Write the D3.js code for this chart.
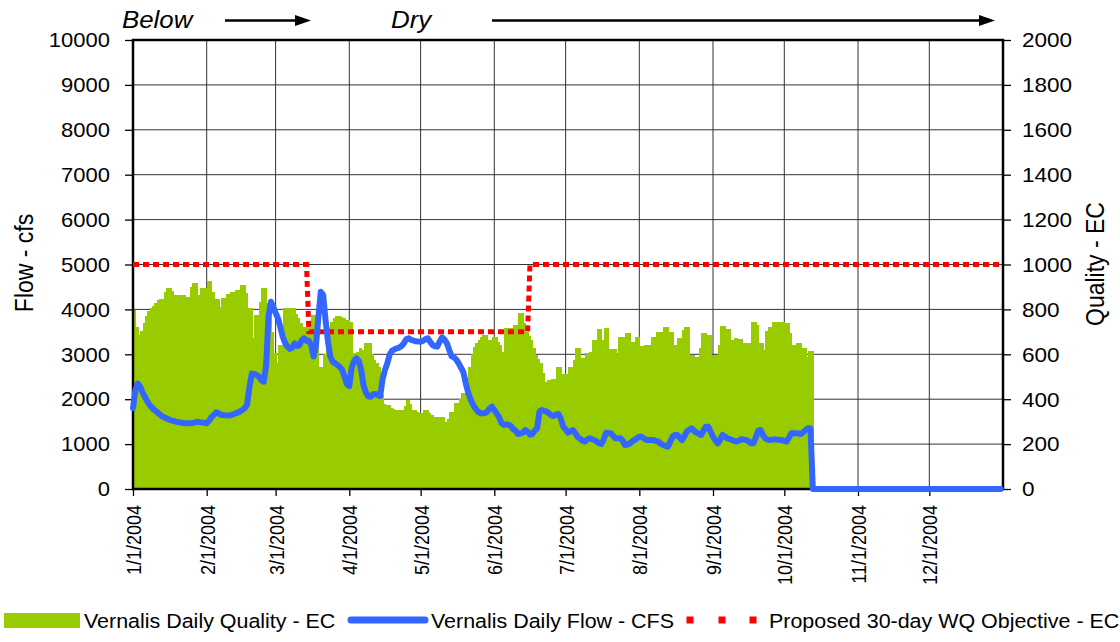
<!DOCTYPE html>
<html><head><meta charset="utf-8">
<script src="https://cdn.jsdelivr.net/npm/d3@7/dist/d3.min.js"></script>
<style>
body{margin:0;background:#fff;}
svg text{font-family:Arial,"Liberation Sans",sans-serif;fill:#000;}
</style>
</head><body>
<svg id="c" width="1120" height="642"></svg>
<script>
// ---------- DATA ----------
const startDate = "2004-01-01";
const endDate = "2005-01-01";
const monthTicks = ["2004-01-01","2004-02-01","2004-03-01","2004-04-01","2004-05-01","2004-06-01",
  "2004-07-01","2004-08-01","2004-09-01","2004-10-01","2004-11-01","2004-12-01"];
const monthTickLabels = ["1/1/2004","2/1/2004","3/1/2004","4/1/2004","5/1/2004","6/1/2004",
  "7/1/2004","8/1/2004","9/1/2004","10/1/2004","11/1/2004","12/1/2004"];
const flowTicks = [0,1000,2000,3000,4000,5000,6000,7000,8000,9000,10000];
const ecTicks = [0,200,400,600,800,1000,1200,1400,1600,1800,2000];

// Vernalis Daily Quality - EC (one value per day from 1/1/2004)
const qualityEC = [
 797,723,686,705,740,770,795,806,815,828,
 840,846,846,878,895,895,880,864,864,864,
 864,864,855,855,900,917,917,864,895,895,
 895,927,927,878,846,846,811,850,850,869,
 869,878,878,886,886,909,909,873,806,806,
 672,775,775,833,895,895,830,780,700,604,
 560,641,641,805,805,805,805,805,780,760,
 740,722,722,720,740,775,775,775,545,545,
 600,660,720,745,760,770,770,765,760,755,
 755,745,604,604,610,630,620,649,649,649,
 600,575,560,545,420,380,374,374,360,356,
 352,352,352,352,370,396,380,352,352,345,
 337,337,352,352,340,330,322,322,322,322,
 322,300,310,344,344,381,381,400,426,426,
 500,545,600,634,650,664,675,686,686,664,
 664,678,678,656,640,610,715,715,715,715,
 730,730,785,785,740,700,680,664,626,597,
 580,560,518,478,485,485,488,490,542,542,
 512,512,512,545,545,574,626,626,582,582,
 604,604,612,664,664,711,711,664,715,715,
 622,622,622,597,675,675,675,696,696,656,
 656,675,675,637,637,641,641,641,678,678,
 701,701,701,723,723,701,701,641,641,671,
 671,708,720,720,597,597,589,589,626,693,
 693,686,686,597,597,597,641,726,726,711,
 711,664,664,671,666,666,649,649,649,649,
 745,745,730,649,649,619,705,720,720,745,
 745,745,745,745,741,741,693,641,641,649,
 649,626,626,589,616,616
];

// Vernalis Daily Flow - CFS (one value per day from 1/1/2004)
const flowCFS = [
 1800,2200,2350,2280,2150,2050,1950,1870,1810,1760,
 1720,1670,1630,1600,1575,1550,1530,1515,1500,1490,
 1480,1470,1463,1463,1463,1470,1480,1500,1490,1480,
 1478,1465,1520,1600,1650,1710,1690,1650,1648,1640,
 1635,1640,1660,1680,1700,1725,1760,1800,1880,2280,
 2570,2560,2540,2500,2420,2390,2750,3850,4170,4050,
 3920,3800,3600,3390,3250,3170,3120,3150,3244,3185,
 3200,3320,3356,3300,3300,3200,2950,3200,3838,4395,
 4320,3764,3300,2950,2836,2800,2762,2720,2650,2500,
 2330,2290,2700,2850,2910,2850,2651,2300,2150,2060,
 2057,2110,2116,2090,2072,2450,2650,2800,3000,3080,
 3110,3133,3150,3185,3250,3340,3356,3320,3304,3290,
 3285,3282,3300,3340,3356,3280,3207,3180,3170,3280,
 3378,3330,3250,3100,2960,2930,2880,2800,2700,2600,
 2350,2150,2000,1880,1800,1730,1686,1686,1686,1720,
 1790,1834,1760,1680,1600,1470,1426,1440,1430,1400,
 1330,1300,1225,1240,1255,1314,1277,1210,1225,1300,
 1351,1723,1760,1740,1723,1686,1640,1626,1660,1671,
 1560,1389,1330,1255,1280,1314,1250,1166,1120,1080,
 1055,1100,1129,1110,1092,1060,1020,1003,1100,1255,
 1250,1240,1180,1129,1129,1129,1080,980,990,1017,
 1060,1092,1130,1166,1166,1120,1092,1092,1092,1092,
 1070,1055,1010,980,960,943,1050,1166,1200,1203,
 1140,1092,1180,1277,1320,1351,1300,1255,1230,1203,
 1300,1389,1389,1280,1166,1080,1017,1100,1203,1170,
 1129,1110,1092,1070,1055,1080,1107,1100,1092,1060,
 1017,1017,1150,1300,1314,1200,1129,1100,1092,1100,
 1107,1100,1092,1092,1070,1055,1150,1240,1240,1240,
 1235,1225,1270,1314,1360,1351,0,0,0,0,
 0,0,0,0,0,0,0,0,0,0,
 0,0,0,0,0,0,0,0,0,0,
 0,0,0,0,0,0,0,0,0,0,
 0,0,0,0,0,0,0,0,0,0,
 0,0,0,0,0,0,0,0,0,0,
 0,0,0,0,0,0,0,0,0,0,
 0,0,0,0,0,0,0,0,0,0,
 0,0,0,0,0,0
];

// Proposed 30-day WQ Objective - EC
const objDates = ["2004-01-01","2004-03-14","2004-03-15","2004-06-15","2004-06-16","2004-12-31"];
const objEC = [1000,1000,700,700,1000,1000];

const seriesNames = ["Vernalis Daily Quality - EC","Vernalis Daily Flow - CFS","Proposed 30-day WQ Objective - EC"];
const leftTitle = "Flow - cfs";
const rightTitle = "Quality - EC";
const annotations = ["Below","Dry"];

// ---------- CHART ----------
const svg = d3.select("#c");
const parse = d3.utcParse("%Y-%m-%d");
const t0 = parse(startDate);
const dayAt = i => d3.utcDay.offset(t0, i);
const SX = 1.1; // horizontal text stretch

const L = 133, R = 1003, T = 40, B = 489;
const x = d3.scaleUtc().domain([t0, parse(endDate)]).range([L, R]);
const yL = d3.scaleLinear().domain([0, 10000]).range([B, T]);
const yR = d3.scaleLinear().domain([0, 2000]).range([B, T]);

function label(g, str, px, py, o = {}) {
  const rot = o.rotate ? ` rotate(${o.rotate})` : "";
  return g.append("text")
    .attr("transform", `translate(${px},${py}) scale(${SX},1)${rot}`)
    .attr("text-anchor", o.anchor || "start")
    .attr("dy", o.dy || 0)
    .style("font-size", (o.size || 20) + "px")
    .style("font-style", o.italic ? "italic" : "normal")
    .text(str);
}

// grid
const grid = svg.append("g").attr("stroke", "#333").attr("stroke-width", 1);
grid.selectAll("line.h").data(flowTicks.filter(d => d > 0 && d < 10000)).join("line")
  .attr("x1", L).attr("x2", R).attr("y1", d => yL(d)).attr("y2", d => yL(d));
grid.selectAll("line.v").data(monthTicks.slice(1)).join("line")
  .attr("x1", d => x(parse(d))).attr("x2", d => x(parse(d))).attr("y1", T).attr("y2", B);

// green bars
svg.append("g").attr("fill", "#99CC00").attr("shape-rendering", "crispEdges")
  .selectAll("rect").data(qualityEC).join("rect")
  .attr("x", (d, i) => x(dayAt(i)))
  .attr("width", (d, i) => x(dayAt(i + 1)) - x(dayAt(i)) + 1)
  .attr("y", d => yR(d))
  .attr("height", d => B - yR(d));

// frame
svg.append("rect").attr("x", L).attr("y", T).attr("width", R - L).attr("height", B - T)
  .attr("fill", "none").attr("stroke", "#000").attr("stroke-width", 2.5);

// axes (ticks only)
const axL = svg.append("g").attr("transform", `translate(${L},0)`)
  .call(d3.axisLeft(yL).tickValues(flowTicks).tickSize(8).tickFormat(""));
const axR = svg.append("g").attr("transform", `translate(${R},0)`)
  .call(d3.axisRight(yR).tickValues(ecTicks).tickSize(8).tickFormat(""));
const axB = svg.append("g").attr("transform", `translate(0,${B})`)
  .call(d3.axisBottom(x).tickValues(monthTicks.map(parse)).tickSize(7).tickFormat(""));
[axL, axR, axB].forEach(a => {
  a.select(".domain").remove();
  a.selectAll(".tick line").attr("stroke", "#000").attr("stroke-width", 1.3);
});

// tick labels
const tl = svg.append("g");
flowTicks.forEach(v => label(tl, String(v), 110, yL(v), {anchor: "end", dy: "0.36em", size: 20}));
ecTicks.forEach(v => label(tl, String(v), 1022, yR(v), {anchor: "start", dy: "0.36em", size: 20.5}));
monthTicks.forEach((d, i) => label(tl, monthTickLabels[i], x(parse(d)) + 8, 505, {anchor: "end", size: 18, rotate: -90}));

// axis titles
label(svg, leftTitle, 33, 263, {anchor: "middle", size: 23, rotate: -90});
label(svg, rightTitle, 1104, 264, {anchor: "middle", size: 23, rotate: -90});

// red objective
const objLine = d3.line().x((d, i) => x(parse(objDates[i]))).y(d => yR(d));
svg.append("path").attr("d", objLine(objEC)).attr("fill", "none")
  .attr("stroke", "#FF0000").attr("stroke-width", 5).attr("stroke-dasharray", "6,4");

// blue flow
const flowLine = d3.line().x((d, i) => x(dayAt(i))).y(d => yL(d));
svg.append("path").attr("d", flowLine(flowCFS)).attr("fill", "none")
  .attr("stroke", "#3366FF").attr("stroke-width", 6)
  .attr("stroke-linejoin", "round").attr("stroke-linecap", "round");

// annotations
label(svg, annotations[0], 122, 28, {size: 23.5, italic: true});
label(svg, annotations[1], 391, 28, {size: 23.5, italic: true});
const arrows = [[225, 311], [492, 995]];
arrows.forEach(([a, b]) => {
  svg.append("line").attr("x1", a).attr("x2", b - 14).attr("y1", 20.5).attr("y2", 20.5)
    .attr("stroke", "#000").attr("stroke-width", 2.5);
  svg.append("path").attr("d", `M${b - 16},15 L${b},20.5 L${b - 16},26 Z`).attr("fill", "#000");
});

// legend
const lg = svg.append("g");
lg.append("rect").attr("x", 4).attr("y", 613).attr("width", 76).attr("height", 15).attr("fill", "#99CC00");
label(lg, seriesNames[0], 84, 628, {size: 19.5});
lg.append("line").attr("x1", 351).attr("x2", 425).attr("y1", 620).attr("y2", 620)
  .attr("stroke", "#3366FF").attr("stroke-width", 7).attr("stroke-linecap", "round");
label(lg, seriesNames[1], 431, 628, {size: 19.5});
[690, 722, 753].forEach(cx => lg.append("rect").attr("x", cx - 3.5).attr("y", 616.5).attr("width", 7).attr("height", 7).attr("fill", "#FF0000"));
label(lg, seriesNames[2], 769, 628, {size: 19.5});
</script>
</body></html>
